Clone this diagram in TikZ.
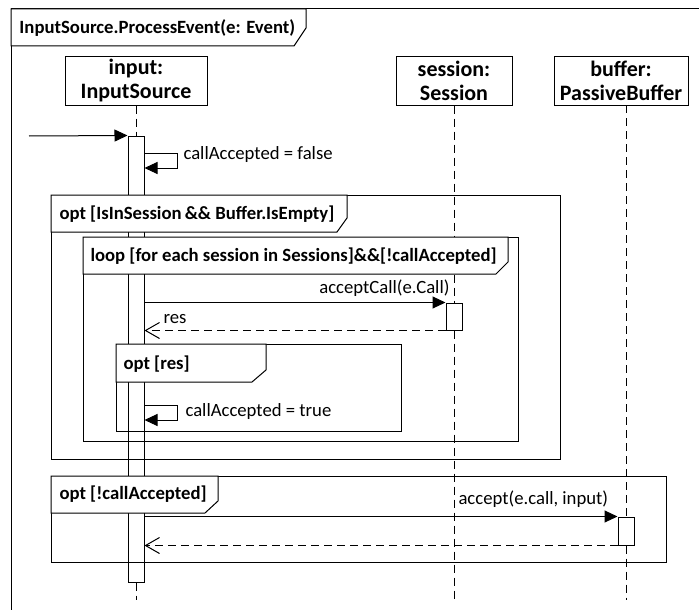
\documentclass[tikz,border=0pt]{standalone}
\usepackage{fontspec}
\setmainfont{Carlito}
\usetikzlibrary{arrows.meta}
\begin{document}
\begin{tikzpicture}[x=1pt,y=-1pt,line width=1pt,
  head/.style={draw,fill=white,inner sep=0pt,align=center,font=\fontsize{22}{24}\selectfont\bfseries},
  bar/.style={draw,inner sep=0pt,minimum width=16pt},
  life/.style={dash pattern=on 8pt off 5pt},
  lbl/.style={draw,fill=white},
  ftxt/.style={inner sep=0pt,anchor=west,font=\fontsize{18.7}{20}\selectfont\bfseries},
  mtxt/.style={inner sep=0pt,font=\fontsize{18.7}{20}\selectfont},
  call/.style={-{Triangle[length=13pt,width=12pt]}},
  ret/.style={dash pattern=on 8pt off 5pt,-{Straight Barb[length=14pt,width=16pt,line width=1pt]}}]
\useasboundingbox (0,0) rectangle (699,610);
% outer frame
\draw (11,610) -- (11,9) -- (699,9);
\draw[lbl] (11,9) -- (306,9) -- (306,28) -- (294,46) -- (11,46) -- cycle;
\node[ftxt] (tmain) at (19,28) {InputSource.ProcessEvent(e: Event)};
% lifeline heads
\node[head,minimum width=142pt,minimum height=48pt] (input) at (136,81) {input:\\InputSource};
\node[head,minimum width=116pt,minimum height=48pt] (session) at (454,81) {session:\\Session};
\node[head,minimum width=134pt,minimum height=48pt] (buffer) at (621,81) {buffer:\\PassiveBuffer};
% activation bars
\node[bar,minimum height=446pt] (ain) at (136,359) {};
\node[bar,fill=white,minimum height=27pt] (ases) at (454,316.5) {};
\node[bar,fill=white,minimum height=28pt] (abuf) at (626,531) {};
% lifelines
\coordinate (inend) at (136,600);
\coordinate (sesend) at (454,600);
\coordinate (bufend) at (626,600);
\draw[life] (input.south) -- (ain.north);
\draw[life] (ain.south) -- (inend);
\draw[life] (session.south) -- (ases.north);
\draw[life] (ases.south) -- (sesend);
\draw[life] (626,105) -- (abuf.north);
\draw[life] (abuf.south) -- (bufend);
% frame opt 1
\draw (51,195) rectangle (560,459);
\draw[lbl] (51,195) -- (347,195) -- (347,218) -- (337,232) -- (51,232) -- cycle;
\node[ftxt] (topt1) at (59,214) {opt [IsInSession\,\&\& Buffer.IsEmpty]};
% loop
\draw (83,237) rectangle (518,441);
\draw[lbl] (83,237) -- (508,237) -- (508,262) -- (496,274) -- (83,274) -- cycle;
\node[ftxt] (tloop) at (90,256) {loop [for each session in Sessions]\&\&[!callAccepted]};
% opt res
\draw (116,344) rectangle (401,431);
\draw[lbl] (116,344) -- (266,344) -- (266,370) -- (252,382) -- (116,382) -- cycle;
\node[ftxt] (topt2) at (123,364) {opt [res]};
% opt !callAccepted
\draw (51,476) rectangle (666,562);
\draw[lbl] (51,476) -- (218,476) -- (218,501) -- (205,513) -- (51,513) -- cycle;
\node[ftxt] (topt3) at (59,494) {opt [!callAccepted]};
% messages
\coordinate (start) at (29,136);
\draw[call] (start) -- (ain.north west);
\draw[call] (ain.east |- 0,153) -- (177,153) -- (177,168) -- (ain.east |- 0,168);
\node[mtxt,anchor=west] (m1) at (183,155) {callAccepted = false};
\draw[call] (ain.east |- ases.north) -- (ases.north west);
\node[mtxt,anchor=east] (m2) at (450,288) {acceptCall(e.Call)};
\draw[ret] (ases.south west) -- (ain.east |- ases.south);
\node[mtxt,anchor=west] (m3) at (163,319) {res};
\draw[call] (ain.east |- 0,405) -- (177,405) -- (177,420) -- (ain.east |- 0,420);
\node[mtxt,anchor=west] (m4) at (185,412) {callAccepted = true};
\draw[call] (ain.east |- abuf.north) -- (abuf.north west);
\node[mtxt,anchor=west] (m5) at (458,499) {accept(e.call, input)};
\draw[ret] (abuf.south west) -- (ain.east |- abuf.south);
\end{tikzpicture}
\end{document}
